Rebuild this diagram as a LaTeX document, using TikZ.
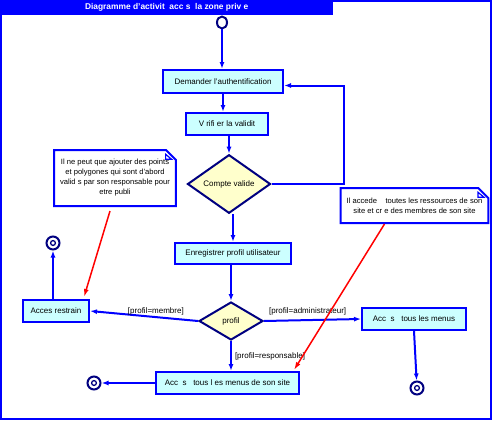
\documentclass[tikz,border=0pt]{standalone}
\usepackage{fontspec}
\setmainfont{Liberation Sans}
\usetikzlibrary{
    positioning,                      % right=of, below=of, etc.
    arrows.meta,                      % puntas Latex
    shapes.geometric,                 % diamond, ellipse
    shapes.misc,                      % chamfered rectangle
    calc
}
\definecolor{act_fill}{RGB}{204,255,255}
\definecolor{dec_fill}{RGB}{255,255,204}
\definecolor{navy_dark}{RGB}{0,0,128}
\tikzset{
    act/.style={
        rectangle, draw=blue, line width=2pt, fill=act_fill,
        minimum height=22pt, align=center,
        font=\fontsize{8}{9}\selectfont, inner sep=2pt
    },
    dec/.style={
        diamond, draw=navy_dark, line width=2pt, fill=dec_fill,
        align=center, font=\fontsize{8}{9}\selectfont, inner sep=0pt
    },
    note/.style={
        chamfered rectangle, chamfered rectangle corners=north east,
        chamfered rectangle xsep=5pt, chamfered rectangle ysep=5pt,
        draw=blue, line width=2pt, fill=white,
        align=center, font=\fontsize{7.6}{10}\selectfont, inner sep=1pt
    },
    flow/.style={
        -{Latex[length=7pt,width=5pt]}, draw=blue, line width=2pt
    },
    link/.style={
        -{Latex[length=8pt,width=5pt]}, draw=red, line width=1.5pt
    },
    cond/.style={
        font=\fontsize{8}{9}\selectfont, inner sep=1pt
    }
}

\begin{document}
\begin{tikzpicture}[x=1pt, y=-1pt,
        ini/.style={ellipse, draw=navy_dark, line width=2pt, fill=white,
            minimum width=10pt, minimum height=12pt, inner sep=0pt},
        fin/.style={circle, draw=navy_dark, line width=2pt, fill=white,
            minimum size=13pt, inner sep=0pt,
            path picture={\draw[navy_dark, line width=1.3pt]
                (path picture bounding box.center) circle (2.4pt);}}]

    \useasboundingbox (0,0) rectangle (492,420);
    \draw[blue, line width=2pt] (1,1) rectangle (491,419);
    \node[fill=blue, anchor=north west, minimum width=333pt, minimum height=15pt,
        inner sep=0pt, text=white, font=\bfseries\fontsize{8.4}{9}\selectfont]
        (titre) at (0,0) {Diagramme d'activit~~acc~s~~la zone priv~e};

    % flux principal
    \node[ini] (debut) at (222,22.5) {};
    \node[act, minimum width=120pt, minimum height=23pt] (auth) at (223,81.5) {Demander l'authentification};
    \node[act, minimum width=82pt] (verif) at (227,124) {V~rifi er la validit};
    \node[dec, minimum width=83pt, minimum height=40pt] (valide) at (229,184) {Compte valide};
    \node[act, minimum width=116pt, minimum height=21pt] (enreg) at (233,253.5) {Enregistrer profil utilisateur};
    \node[dec, minimum width=64pt, minimum height=38pt] (profil) at (231,321) {profil};

    % branches
    \node[act, minimum width=66pt] (restr) at (56,311) {Acces restrain};
    \node[act, minimum width=104pt] (admin) at (414,319) {Acc~~s~~~tous les menus};
    \node[act, minimum width=143pt] (site) at (227.5,383) {Acc~~s~~~tous l es menus de son site};
    \node[fin] (fin1) at (53,243) {};
    \node[fin] (fin2) at (94,383) {};
    \node[fin] (fin3) at (417,388) {};

    % notes
    \node[note, minimum width=118pt, minimum height=56pt] (note1) at (115,178)
        {Il ne peut que ajouter des points\\et polygones qui sont d'abord\\valid~s par son responsable pour\\etre publi};
    \node[note, minimum width=147pt, minimum height=35pt] (note2) at (414.5,205.5)
        {Il accede~~~~toutes les ressources de son\\site et cr~e des membres de son site};
    \draw[blue, line width=1.2pt, fill=white] ([xshift=-6pt]note1.north east) -- ++(0,5) -- ++(6,0) -- cycle;
    \draw[blue, line width=1.2pt, fill=white] ([xshift=-6pt]note2.north east) -- ++(0,5) -- ++(6,0) -- cycle;

    \draw[flow] (debut) -- (debut |- auth.north);
    \draw[flow] (auth) -- (auth |- verif.north);
    \draw[flow] (verif.south -| valide) -- (valide);
    \draw[flow] (valide.east) -- ++(72,0) |- ([yshift=-4pt]auth.east);
    \draw[flow] (valide.south -| enreg) -- (enreg);
    \draw[flow] (enreg.south -| profil) -- (profil);

    \draw[flow] (profil.west) -- (restr.east)
        node[cond, pos=0.39, above] {[profil=membre]};
    \draw[flow] (profil.east) -- (admin.west)
        node[cond, pos=0.45, above=3pt] {[profil=administrateur]};
    \draw[flow] (profil.south) -- (profil.south |- site.north)
        node[cond, pos=0.5, right=2pt] {[profil=responsable]};

    \draw[flow] (restr.north -| fin1) -- (fin1);
    \draw[flow] (site.west) -- (fin2);
    \draw[flow] (admin.south) -- (fin3);

    % liens des notes
    \draw[link] ([xshift=-5pt, yshift=-4pt]note1.south) -- ([xshift=-6pt, yshift=2pt]restr.north east);
    \draw[link] ([xshift=-30pt]note2.south) -- ([xshift=-6pt, yshift=1pt]site.north east);
\end{tikzpicture}
\end{document}
